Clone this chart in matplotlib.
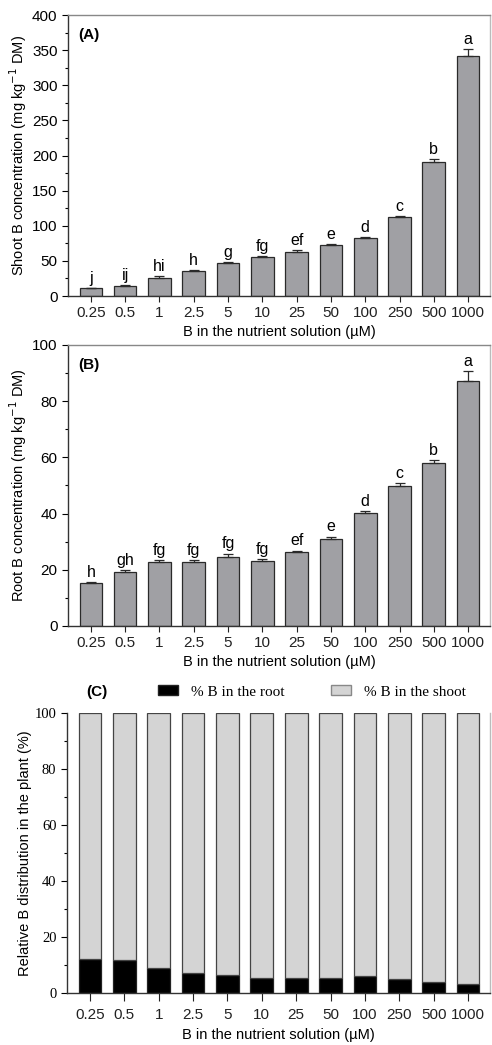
import numpy as np
import matplotlib
matplotlib.use("Agg")
import matplotlib.pyplot as plt
from matplotlib.ticker import MultipleLocator
from matplotlib.patches import Patch

# data
levels = ["0.25", "0.5", "1", "2.5", "5", "10", "25", "50", "100", "250", "500", "1000"]

shoot_b = [11, 14, 26, 35, 47, 56, 63, 73, 83, 112, 191, 342]
shoot_err = [1.0, 1.5, 2.0, 2.0, 2.0, 1.0, 2.0, 1.5, 1.0, 2.5, 3.5, 9.0]
shoot_letters = ["j", "ij", "hi", "h", "g", "fg", "ef", "e", "d", "c", "b", "a"]

root_b = [15.3, 19.2, 22.8, 22.8, 24.5, 23.1, 26.3, 31.0, 40.3, 49.7, 57.9, 87.2]
root_err = [0.3, 0.7, 0.6, 0.6, 1.2, 0.8, 0.5, 0.8, 0.5, 1.2, 1.1, 3.5]
root_letters = ["h", "gh", "fg", "fg", "fg", "fg", "ef", "e", "d", "c", "b", "a"]

pct_root = [12.2, 11.6, 9.0, 7.3, 6.3, 5.2, 5.2, 5.5, 5.9, 5.0, 4.0, 3.2]

SANS = "Liberation Sans"
SERIF = "Liberation Serif"
plt.rcParams["font.family"] = SANS
plt.rcParams["axes.linewidth"] = 1.0

BAR_GRAY = "#a0a0a4"
EDGE = "#2a2a2a"
XLABEL = "B in the nutrient solution (\u00b5M)"

fig = plt.figure(figsize=(4.92, 10.45), dpi=100)

x = np.arange(len(levels))
W = 0.66


def style_axes(ax, box=True):
    ax.set_xlim(-0.67, 11.64)
    ax.set_xticks(x)
    ax.set_xticklabels(levels, fontsize=11)
    ax.tick_params(axis="x", length=4, width=0.8, pad=3, colors="#222222")
    ax.tick_params(axis="y", which="major", length=4, width=0.8, labelsize=11)
    ax.tick_params(axis="y", which="minor", length=2.5, width=0.8)
    ax.spines["left"].set_color("#333333")
    ax.spines["bottom"].set_color("#333333")
    if box:
        ax.spines["top"].set_color("#888888")
        ax.spines["right"].set_color("#bbbbbb")
    else:
        ax.spines["top"].set_visible(False)
        ax.spines["right"].set_color("#bbbbbb")


def bar_panel(ax, vals, errs, letters, ymax, major, minor, ylabel, tag, off):
    ax.bar(x, vals, width=W, color=BAR_GRAY, edgecolor=EDGE, linewidth=0.9, zorder=2)
    ax.errorbar(x, vals, yerr=[np.zeros(len(errs)), errs], fmt="none",
                ecolor=EDGE, elinewidth=0.9, capsize=3.5, capthick=0.9, zorder=3)
    for xi, v, e, lab in zip(x, vals, errs, letters):
        ax.text(xi, v + e + off, lab, ha="center", va="bottom", fontsize=11.5)
    ax.set_ylim(0, ymax)
    ax.yaxis.set_major_locator(MultipleLocator(major))
    ax.yaxis.set_minor_locator(MultipleLocator(minor))
    style_axes(ax)
    ax.set_ylabel(ylabel, fontsize=10.5, labelpad=2)
    ax.set_xlabel(XLABEL, fontsize=10.5, labelpad=4)
    ax.text(0.025, 0.955, tag, transform=ax.transAxes, fontsize=11,
            fontweight="bold", ha="left", va="top")


# (A) shoot
axA = fig.add_axes([0.138, 0.7167, 0.858, 0.2689])
bar_panel(axA, shoot_b, shoot_err, shoot_letters, 400, 50, 25,
          "Shoot B concentration (mg kg$^{-1}$ DM)", "(A)", 3)

# (B) root
axB = fig.add_axes([0.138, 0.4010, 0.858, 0.2689])
bar_panel(axB, root_b, root_err, root_letters, 100, 20, 10,
          "Root B concentration (mg kg$^{-1}$ DM)", "(B)", 0.8)

# (C) relative distribution
pct_shoot = [100 - r for r in pct_root]
axC = fig.add_axes([0.136, 0.0498, 0.860, 0.2679])
axC.bar(x, pct_root, width=W, color="black", edgecolor="#222222", linewidth=0.9, zorder=2)
axC.bar(x, pct_shoot, bottom=pct_root, width=W, color="#d4d4d4",
        edgecolor="#444444", linewidth=0.9, zorder=2)
axC.set_ylim(0, 100)
axC.yaxis.set_major_locator(MultipleLocator(20))
axC.yaxis.set_minor_locator(MultipleLocator(10))
style_axes(axC, box=False)
for t in axC.get_yticklabels():
    t.set_fontfamily(SERIF)
    t.set_fontsize(10.5)
axC.tick_params(axis="x", length=6, pad=5)
axC.set_ylabel("Relative B distribution in the plant (%)", fontsize=10.5, labelpad=2)
axC.set_xlabel(XLABEL, fontsize=10.5, labelpad=4)
axC.text(0.045, 1.075, "(C)", transform=axC.transAxes, fontsize=11,
         fontweight="bold", ha="left", va="center")
handles = [Patch(facecolor="black", edgecolor="#222222", label="% B in the root"),
           Patch(facecolor="#d4d4d4", edgecolor="#888888", label="% B in the shoot")]
axC.legend(handles=handles, loc="center left", bbox_to_anchor=(0.215, 1.075), ncol=2,
           frameon=False, prop={"family": SERIF, "size": 11}, handlelength=1.3,
           handleheight=0.6, columnspacing=3.0, handletextpad=0.9, borderaxespad=0,
           borderpad=0)

fig.savefig("out.png", dpi=100)
